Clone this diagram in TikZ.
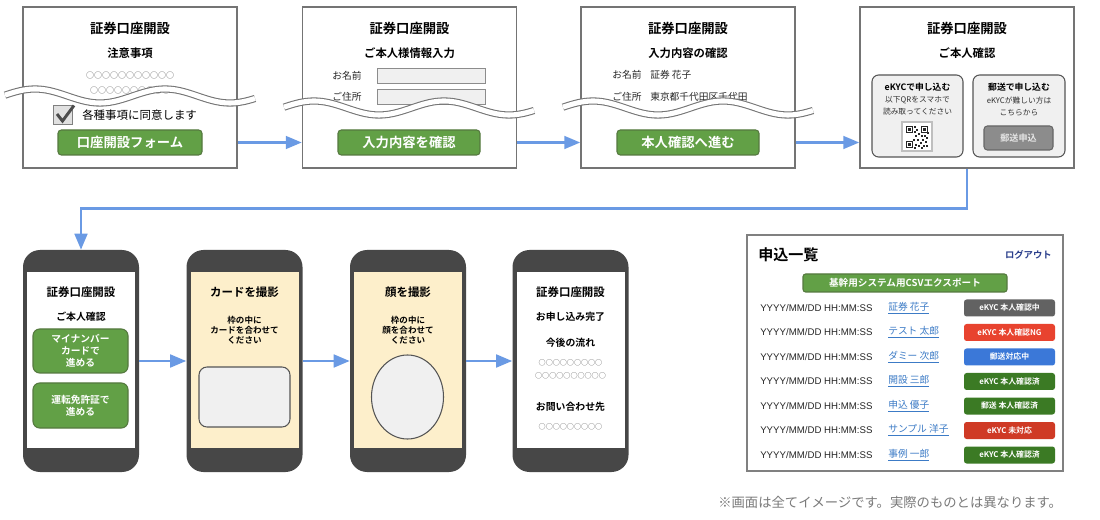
\documentclass[tikz,border=0pt]{standalone}
\usepackage{fontspec}
\setmainfont{Noto Sans CJK JP}[BoldFont={Noto Sans CJK JP Bold}]
\newfontfamily\latinfont{Liberation Sans}
\usetikzlibrary{arrows.meta,positioning,shapes.geometric}
\definecolor{frameGray}{HTML}{747474}
\definecolor{btnGreen}{HTML}{62A046}
\definecolor{btnGreenEdge}{HTML}{55793F}
\definecolor{flowBlue}{HTML}{6A9AE4}
\definecolor{phoneBody}{HTML}{474747}
\definecolor{screenCream}{HTML}{FDEFCB}
\definecolor{fieldGray}{HTML}{F0F0F0}
\definecolor{edgeGray}{HTML}{555555}
\definecolor{dotGray}{HTML}{555555}
\definecolor{linkBlue}{HTML}{3C7BC6}
\definecolor{logoutBlue}{HTML}{2B3F8C}
\definecolor{mailBtn}{HTML}{8C8C8C}
\definecolor{badgeGray}{HTML}{626262}
\definecolor{badgeRed}{HTML}{E8432F}
\definecolor{badgeBlue}{HTML}{3B78D8}
\definecolor{badgeGreen}{HTML}{3B7A24}
\definecolor{badgeDarkRed}{HTML}{CF3A25}
\definecolor{noteGray}{HTML}{7A7A7A}

\begin{document}
\begin{tikzpicture}[
    x=0.75pt,y=-0.75pt,>=Latex,
    every node/.style={inner sep=0pt,align=center},
    screenbox/.style={draw=frameGray,line width=1.1pt,fill=white,minimum width=160.5pt,minimum height=120.75pt},
    heading/.style={font=\fontsize{10}{12}\selectfont\bfseries},
    subheading/.style={font=\fontsize{8.5}{10}\selectfont\bfseries},
    fieldtext/.style={font=\fontsize{7.3}{9}\selectfont,text=black!85},
    dotline/.style={font=\fontsize{6}{7}\selectfont,text=dotGray},
    field/.style={draw=black!45,fill=fieldGray,line width=0.6pt,minimum width=81pt,minimum height=11.25pt},
    btn/.style={draw=btnGreenEdge,fill=btnGreen,line width=0.8pt,rounded corners=2.5pt,text=white,
        font=\fontsize{10}{12}\selectfont\bfseries,minimum width=#1,minimum height=18.75pt},
    btn/.default=106.5pt,
    card/.style={draw=edgeGray,fill=fieldGray,line width=0.8pt,rounded corners=5pt,minimum height=61.5pt},
    cardhead/.style={font=\fontsize{6.6}{8}\selectfont\bfseries},
    cardnote/.style={font=\fontsize{5.8}{9}\selectfont,text=black!80},
    waveedge/.style={draw=frameGray,line width=5.4pt},
    wavefill/.style={draw=white,line width=3.8pt},
    phone/.style={fill=phoneBody,rounded corners=12.75pt,minimum width=87pt,minimum height=166.5pt},
    screen/.style={fill=white,minimum width=81pt,minimum height=132pt},
    phonehead/.style={font=\fontsize{8.6}{10}\selectfont\bfseries},
    phonesub/.style={font=\fontsize{7.4}{9}\selectfont\bfseries},
    phonenote/.style={font=\fontsize{6.4}{7.6}\selectfont\bfseries},
    phonebtn/.style={draw=btnGreenEdge,fill=btnGreen,line width=0.8pt,rounded corners=5pt,text=white,
        font=\fontsize{7.3}{8.8}\selectfont\bfseries,minimum width=71.25pt},
    phonedots/.style={font=\fontsize{5.3}{6}\selectfont,text=dotGray},
    stamp/.style={font=\latinfont\fontsize{7.25}{9}\selectfont,text=black!85},
    applicant/.style={font=\fontsize{7.3}{9}\selectfont,text=linkBlue},
    badge/.style={rounded corners=2pt,text=white,font=\fontsize{5.9}{7}\selectfont\bfseries,
        minimum width=68.25pt,minimum height=12.75pt},
    flow/.style={-{Triangle[length=12pt,width=9.5pt]},draw=flowBlue,line width=2pt}
]
\fill[white] (0,0) rectangle (1100,520);
\useasboundingbox (0,0) rectangle (1100,520);

% top row: web forms
\node[screenbox] (noticeBox) at (130,87.5) {};
\node[screenbox] (inputBox) at (409.5,87.5) {};
\node[screenbox] (confirmBox) at (688,87.5) {};
\node[screenbox] (kycBox) at (967,87.5) {};

\node[heading] (noticeTitle) at (130,28) {証券口座開設};
\node[subheading] (noticeSub) at (130,53) {注意事項};
\node[dotline] (noticeDots) at (130,75) {○○○○○○○○○○○};
\node[dotline] (noticeDots2) at (130,90) {○○○○○○○○○○};

\node[heading] (inputTitle) at (409.5,28) {証券口座開設};
\node[subheading] (inputSub) at (409.5,53) {ご本人様情報入力};
\node[fieldtext] (nameLabel) at (347,75.5) {お名前};
\node[field] (nameField) at (431,75.5) {};
\node[fieldtext] (addrLabel) at (347,97) {ご住所};
\node[field] (addrField) at (431,97) {};

\node[heading] (confirmTitle) at (688,28) {証券口座開設};
\node[subheading] (confirmSub) at (688,53) {入力内容の確認};
\node[fieldtext] (nameLabel2) at (627,75) {お名前};
\node[fieldtext,anchor=west] (nameValue) at (650,75) {証券 花子};
\node[fieldtext] (addrLabel2) at (627,97) {ご住所};
\node[fieldtext,anchor=west] (addrValue) at (650,97) {東京都千代田区千代田};

% torn-off screens
\foreach \wx/\wy in {23/96,302/108,581/108}{
  \draw[waveedge] plot[domain=-18:232,samples=80,smooth] ({\wx+\x},{\wy-7*cos((\x-12)*2.7692)});
  \draw[wavefill] plot[domain=-18:232,samples=80,smooth] ({\wx+\x},{\wy-7*cos((\x-12)*2.7692)});
}

\node[draw=black!50,fill=black!12,line width=0.6pt,minimum size=14.25pt] (agreeBox) at (63,115) {};
\draw[draw=black!70,line width=2.2pt] (57,114) -- (62.5,121) -- (74,105.5);
\node[font=\fontsize{8.6}{10}\selectfont,anchor=west] (agreeText) at (82,115) {各種事項に同意します};
\node[btn=108pt] (noticeBtn) at (130,142.5) {口座開設フォーム};
\node[btn] (inputBtn) at (409,142.5) {入力内容を確認};
\node[btn] (confirmBtn) at (688,142.5) {本人確認へ進む};

\node[heading] (kycTitle) at (967,28) {証券口座開設};
\node[subheading] (kycSub) at (967,53) {ご本人確認};
\node[card,minimum width=68.25pt] (ekycCard) at (917.5,116) {};
\node[card,minimum width=69pt] (mailCard) at (1019,116) {};
\node[cardhead] (ekycHead) at (917.5,87) {eKYCで申し込む};
\node[cardnote] (ekycNote) at (917.5,106) {以下QRをスマホで\\読み取ってください};
\node[draw=black!25,fill=white,line width=0.8pt,minimum width=22.5pt,minimum height=21.75pt] (qrCode) at (917,136.5) {};
\foreach \qx/\qy in {906/126,921/126,906/141}{
  \fill[black!85] (\qx,\qy) rectangle ++(7,7);
  \fill[white] (\qx+1.3,\qy+1.3) rectangle ++(4.4,4.4);
  \fill[black!85] (\qx+2.3,\qy+2.3) rectangle ++(2.4,2.4);
}
\foreach \qx/\qy in {914/126,916/129,914/131,918/133,915/135,921/135,924/135,926/137,913/139,917/139,
    922/139,920/142,925/141,915/144,918/145,923/145,926/145,921/147,914/147,927/132}{
  \fill[black!85] (\qx,\qy) rectangle ++(2,2);
}
\node[cardhead] (mailHead) at (1019,87) {郵送で申し込む};
\node[cardnote] (mailNote) at (1019,106) {eKYCが難しい方は\\こちらから};
\node[draw=black!60,fill=mailBtn,line width=0.8pt,rounded corners=2.5pt,minimum width=51.75pt,minimum height=18pt,
    text=black!10,font=\fontsize{6.8}{8}\selectfont\bfseries] (mailBtn) at (1018.5,138) {郵送申込};

\draw[flow] (noticeBtn -| noticeBox.east) -- (noticeBtn -| inputBox.west);
\draw[flow] (inputBtn -| inputBox.east) -- (inputBtn -| confirmBox.west);
\draw[flow] (confirmBtn -| confirmBox.east) -- (confirmBtn -| kycBox.west);

% bottom row: smartphone eKYC
\node[phone] (choosePhone) at (81,361) {};
\node[phone] (cardPhone) at (244.5,361) {};
\node[phone] (facePhone) at (408,361) {};
\node[phone] (donePhone) at (570.5,361) {};
\node[screen] (chooseScreen) at (81,360) {};
\node[screen,fill=screenCream] (cardScreen) at (244.5,360) {};
\node[screen,fill=screenCream] (faceScreen) at (408,360) {};
\node[screen] (doneScreen) at (570.5,360) {};

\draw[flow] (kycBox.south) -- ++(0,40) -| (choosePhone.north);

\node[phonehead] (chooseTitle) at (81,292) {証券口座開設};
\node[phonesub] (chooseSub) at (81,317) {ご本人確認};
\node[phonebtn,minimum height=33pt] (mynumberBtn) at (80.5,351) {マイナンバー\\カードで\\進める};
\node[phonebtn,minimum height=33.75pt] (licenseBtn) at (80.5,405.5) {運転免許証で\\進める};

\node[phonehead] (cardTitle) at (244.5,292) {カードを撮影};
\node[phonenote] (cardNote) at (244.5,330) {枠の中に\\カードを合わせて\\ください};
\node[draw=edgeGray,fill=fieldGray,line width=0.8pt,rounded corners=6pt,minimum width=68.25pt,minimum height=45pt] (cardFrame) at (244.5,397) {};

\node[phonehead] (faceTitle) at (408,292) {顔を撮影};
\node[phonenote] (faceNote) at (408,330) {枠の中に\\顔を合わせて\\ください};
\node[ellipse,draw=edgeGray,fill=fieldGray,line width=0.8pt,minimum width=54pt,minimum height=63pt] (faceFrame) at (407.5,397) {};

\node[phonehead] (doneTitle) at (570.5,292) {証券口座開設};
\node[phonesub] (doneSub) at (570.5,317) {お申し込み完了};
\node[phonesub] (nextStep) at (570.5,343) {今後の流れ};
\node[phonedots] (nextDots) at (570.5,363) {○○○○○○○○○};
\node[phonedots] (nextDots2) at (570.5,376) {○○○○○○○○○○};
\node[phonesub] (contactHead) at (570.5,407) {お問い合わせ先};
\node[phonedots] (contactDots) at (570.5,427) {○○○○○○○○○};

\draw[flow] (choosePhone) -- (cardPhone);
\draw[flow] (cardPhone) -- (facePhone);
\draw[flow] (facePhone) -- (donePhone);

% admin list
\node[draw=black!50,line width=0.9pt,fill=white,minimum width=237pt,minimum height=177pt] (listPanel) at (905,353) {};
\node[anchor=west,font=\fontsize{11.3}{13}\selectfont\bfseries] (listTitle) at (758,255) {申込一覧};
\node[anchor=east,font=\fontsize{7}{8}\selectfont\bfseries,text=logoutBlue] (logout) at (1052,255) {ログアウト};
\node[draw=btnGreenEdge,fill=btnGreen,line width=0.8pt,rounded corners=2pt,minimum width=153pt,minimum height=13.5pt,
    text=white,font=\fontsize{7.2}{8}\selectfont\bfseries] (csvBtn) at (905,283) {基幹用システム用CSVエクスポート};
\foreach \who/\tag/\col [count=\i] in {証券 花子/eKYC 本人確認中/badgeGray,テスト 太郎/eKYC 本人確認NG/badgeRed,
    ダミー 次郎/郵送対応中/badgeBlue,開設 三郎/eKYC 本人確認済/badgeGreen,申込 優子/郵送 本人確認済/badgeGreen,
    サンプル 洋子/eKYC 未対応/badgeDarkRed,事例 一郎/eKYC 本人確認済/badgeGreen}{
  \pgfmathsetmacro\ry{308+24.5*(\i-1)}
  \node[stamp,anchor=west] (stamp\i) at (760,\ry) {YYYY/MM/DD HH:MM:SS};
  \node[applicant,anchor=west] (who\i) at (888,\ry) {\underline{\who}};
  \node[badge,fill=\col] (tag\i) at (1009.5,\ry) {\tag};
}

\node[anchor=west,font=\fontsize{10}{12}\selectfont,text=noteGray] (note) at (718,502)
    {※画面は全てイメージです。実際のものとは異なります。};
\end{tikzpicture}
\end{document}
